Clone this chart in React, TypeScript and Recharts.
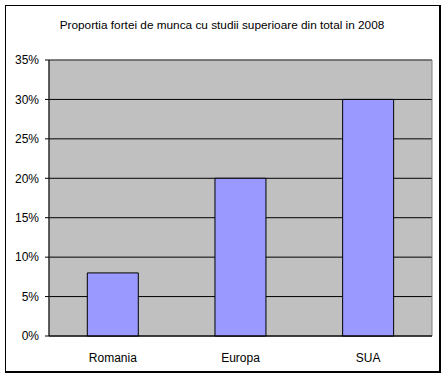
import React from 'react';
import { BarChart, Bar, XAxis, YAxis, CartesianGrid, ReferenceArea } from 'recharts';

const categories = ['Romania', 'Europa', 'SUA'];
const values = [0.08, 0.2, 0.3];
const yTicks = [0, 0.05, 0.1, 0.15, 0.2, 0.25, 0.3, 0.35];
const edgeTicks = [0, 1, 2, 3];
const title = 'Proportia fortei de munca cu studii superioare din total in 2008';

const data = categories.map((c, i) => ({ name: c, value: values[i] }));

const font = 'Arial, "Liberation Sans", sans-serif';

export default function App() {
  return (
    <div style={{ position: 'absolute', left: 0, top: 0, width: 446, height: 378, background: '#fff', fontFamily: font }}>
      <div style={{ position: 'absolute', left: 5, top: 5, width: 433, height: 365, border: '1px solid #000', borderRightWidth: 2, borderBottomWidth: 2 }} />
      <div style={{ position: 'absolute', left: 5, top: 18, width: 434, textAlign: 'center', fontSize: 11.8, color: '#000', lineHeight: '14px' }}>{title}</div>
      <div style={{ position: 'absolute', left: 0, top: 0 }}>
        <BarChart width={446} height={378} data={data} margin={{ top: 60, right: 14, bottom: 0, left: 0 }} barCategoryGap="30%">
          <CartesianGrid vertical={false} fill="#C0C0C0" stroke="#000" fillOpacity={1} horizontalValues={yTicks} />
          <ReferenceArea y1={0} y2={0.35} fill="none" stroke="#808080" strokeWidth={1} ifOverflow="visible" />
          <XAxis xAxisId="edges" type="number" domain={[0, 3]} ticks={edgeTicks} height={0} axisLine={false} tickLine={{ stroke: '#000', strokeWidth: 1 }} tickSize={4} tickFormatter={() => ''} />
          <XAxis dataKey="name" height={42} axisLine={{ stroke: '#000' }} tickLine={false} tickMargin={11} tick={{ fill: '#000', fontSize: 12, fontFamily: font }} />
          <YAxis width={49} domain={[0, 0.35]} ticks={yTicks} tickFormatter={(v: number) => `${Math.round(v * 100)}%`} axisLine={{ stroke: '#000' }} tickLine={{ stroke: '#000' }} tickSize={4} tickMargin={6} tick={{ fill: '#000', fontSize: 12, fontFamily: font }} />
          <Bar dataKey="value" fill="#9999FF" stroke="#000" strokeWidth={1} isAnimationActive={false} />
        </BarChart>
      </div>
    </div>
  );
}
